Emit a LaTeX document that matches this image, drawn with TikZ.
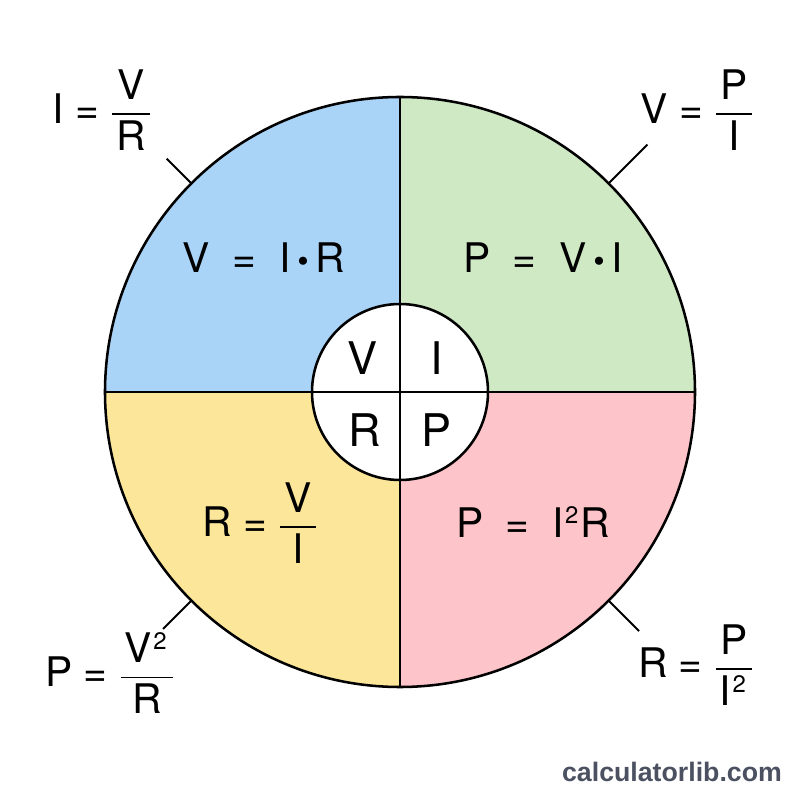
\documentclass[tikz,border=0pt]{standalone}
\usepackage{amsmath}
\usepackage{fontspec}
\setmainfont{TeX Gyre Heros}
\newfontfamily\wmfont{Liberation Sans}
\usetikzlibrary{positioning}
\definecolor{ohmblue}{HTML}{AAD4F7}
\definecolor{ohmgreen}{HTML}{CFE9C5}
\definecolor{ohmyellow}{HTML}{FCE699}
\definecolor{ohmpink}{HTML}{FDC5CA}
\definecolor{ohmgray}{HTML}{4B5161}
% fraction with a heavier rule, letters in the text font
\newcommand\ohmfrac[2]{\ensuremath{\genfrac{}{}{1.3pt}{0}{\text{\kern3pt#1\kern3pt}}{\text{\kern3pt#2\kern3pt}}}}
\newcommand\ohmdot{\raisebox{0.5pt}{\scalebox{0.8}{\textbullet}}}
\newcommand\ohmsq{\kern1pt\raisebox{9.5pt}{\fontsize{17}{17}\selectfont 2}\kern1.5pt}
\tikzset{
  ohmline/.style={line width=1.8pt, draw=black},
  ohmtick/.style={line width=1.5pt, draw=black},
  ohmformula/.style={font=\fontsize{29}{34}\selectfont, inner sep=0pt},
  ohmletter/.style={font=\fontsize{32}{38}\selectfont, inner sep=0pt},
  ohmmark/.style={font=\wmfont\bfseries\fontsize{19}{23}\selectfont, text=ohmgray, inner sep=0pt}
}

\begin{document}
\begin{tikzpicture}[x=0.025cm,y=0.025cm]
  \useasboundingbox (-400,-408) rectangle (400,392);
  \fill[white] (-400,-408) rectangle (400,392);
  \coordinate (c) at (0,0);

  % four quadrants of the wheel
  \fill[ohmblue] (c) -- (180:295) arc[start angle=180,end angle=90,radius=295] -- cycle;
  \fill[ohmgreen] (c) -- (90:295) arc[start angle=90,end angle=0,radius=295] -- cycle;
  \fill[ohmyellow] (c) -- (270:295) arc[start angle=270,end angle=180,radius=295] -- cycle;
  \fill[ohmpink] (c) -- (0:295) arc[start angle=0,end angle=-90,radius=295] -- cycle;
  \fill[white] (c) circle[radius=88];

  % outline and dividers
  \draw[ohmline] (c) circle[radius=295];
  \draw[ohmline] (c) circle[radius=88];
  \draw[ohmline] (90:295) -- (270:295);
  \draw[ohmline] (180:295) -- (0:295);

  % hub letters
  \node[ohmletter] (hubv) at (-37,34) {V};
  \node[ohmletter] (hubi) at (37,34) {I};
  \node[ohmletter] (hubr) at (-35,-38) {R};
  \node[ohmletter] (hubp) at (37,-38) {P};

  % formulas inside the quadrants
  \node[ohmformula] (vir) at (-136,134) {V \ = \ I\,\ohmdot\,R};
  \node[ohmformula] (pvi) at (143,134) {P \ = \ V\,\ohmdot\,I};
  \node[ohmformula] (rvi) at (-140,-131) {R = \ohmfrac{V}{I}};
  \node[ohmformula] (pir) at (133,-130) {P \ = \ I\ohmsq R};

  % formulas outside, with their ticks
  \node[ohmformula] (ivr) at (-298,282) {I = \ohmfrac{V}{R}};
  \node[ohmformula] (vpi) at (297,282) {V = \ohmfrac{P}{I}};
  \node[ohmformula] (pvr) at (-290,-281) {P = \ohmfrac{V\ohmsq}{R}};
  \node[ohmformula] (rpi) at (296,-273) {R = \ohmfrac{P}{I\ohmsq}};
  \coordinate (tlin) at (135:295);  \coordinate (tlout) at (135:330);
  \coordinate (trin) at (45:295);   \coordinate (trout) at (45:350);
  \coordinate (blin) at (225:295);  \coordinate (blout) at (225:335);
  \coordinate (brin) at (315:295);  \coordinate (brout) at (315:338);
  \draw[ohmtick] (tlin) -- (tlout);
  \draw[ohmtick] (trin) -- (trout);
  \draw[ohmtick] (blin) -- (blout);
  \draw[ohmtick] (brin) -- (brout);

  \node[ohmmark] (site) at (272,-380) {calculatorlib.com};
\end{tikzpicture}
\end{document}
